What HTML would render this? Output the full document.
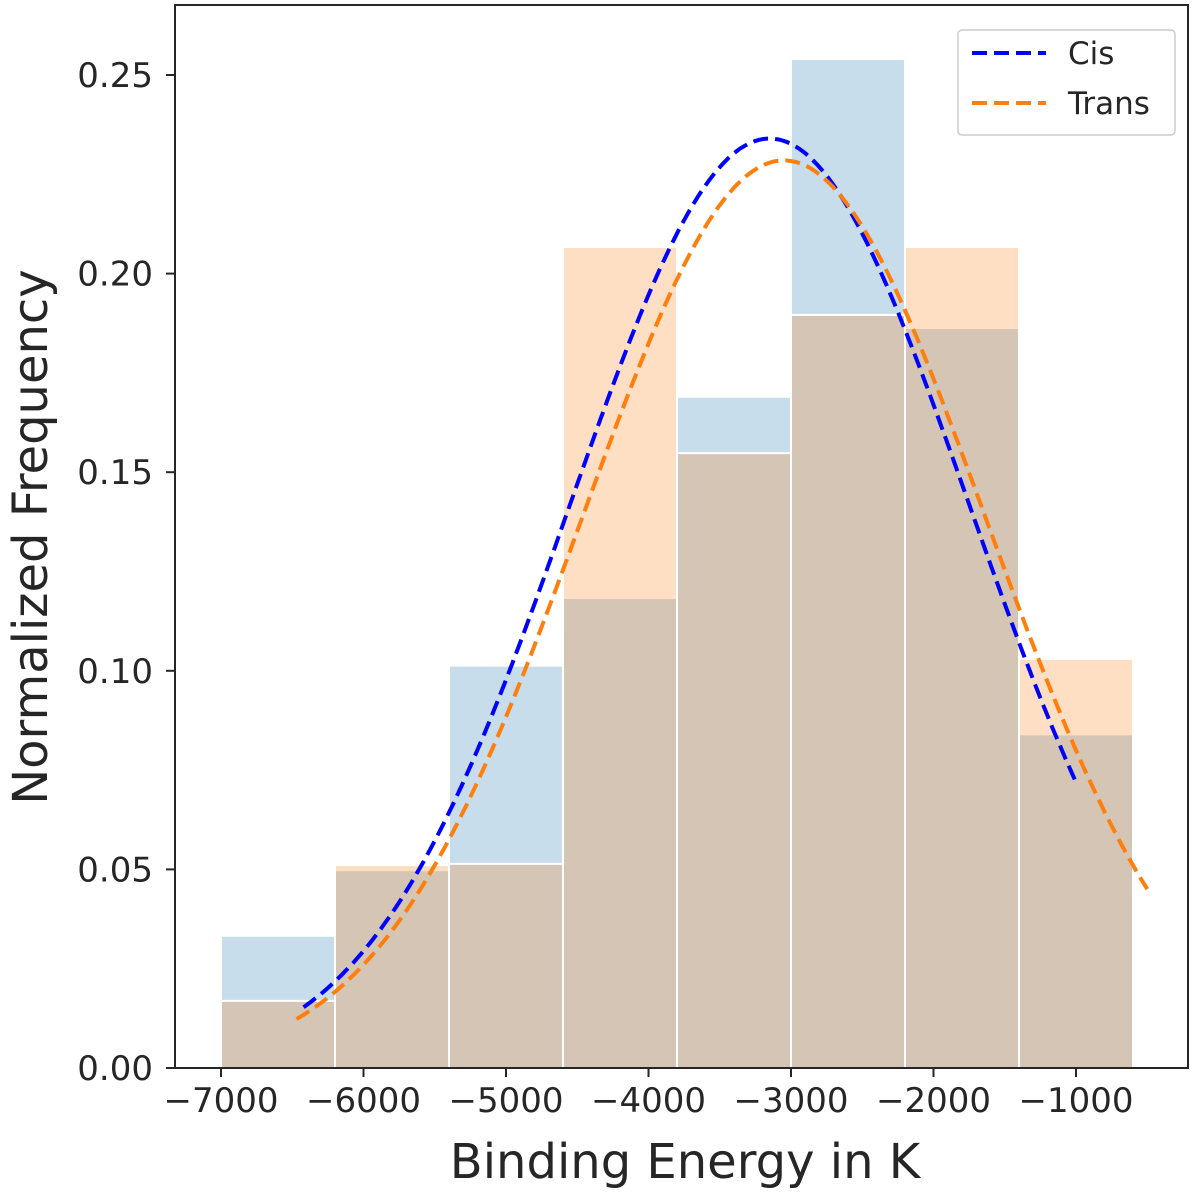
<!DOCTYPE html>
<html><head><meta charset="utf-8"><style>
body{margin:0;background:#fff}
text{font-family:"DejaVu Sans","Liberation Sans",sans-serif;fill:#262626}
</style></head><body>
<svg width="1200" height="1197" xmlns="http://www.w3.org/2000/svg">
<g id="plot"></g>
</svg>
<script>
const binEdges=[-7000,-6200,-5400,-4600,-3800,-3000,-2200,-1400,-600];
const cisFreq=[0.0333,0.0498,0.1013,0.1183,0.169,0.254,0.1863,0.084];
const transFreq=[0.0169,0.0511,0.0514,0.2067,0.1548,0.1896,0.2067,0.103];
const cisFit=[-3150,1400,0.234,-6420,-1000];
const transFit=[-3050,1415,0.2285,-6470,-500];
const xTicks=[-7000,-6000,-5000,-4000,-3000,-2000,-1000];
const yTicks=[0,0.05,0.10,0.15,0.20,0.25];
const yTickLabels=["0.00","0.05","0.10","0.15","0.20","0.25"];

const NS="http://www.w3.org/2000/svg";
const g=document.getElementById('plot');
const L=175,R=1188,T=5,B=1068;
const xs=v=>221+(v+7000)*0.1425;
const ys=v=>B-v*3972;
function mk(t,a,p){const e=document.createElementNS(NS,t);for(const k in a)e.setAttribute(k,a[k]);(p||g).appendChild(e);return e;}
function bars(freq,color,name){
 freq.forEach((f,i)=>{
  const x0=xs(binEdges[i]),x1=xs(binEdges[i+1]);
  const r=mk('rect',{x:x0,y:ys(f),width:x1-x0,height:B-ys(f),fill:color,'fill-opacity':0.25,stroke:'#fff','stroke-width':2});
  
  
 });
}
bars(cisFreq,'#1f77b4','cis');
bars(transFreq,'#ff7f0e','trans');
function curve(p,color,name){
 const [mu,s,a,x0,x1]=p;let d='';
 for(let k=0;k<=200;k++){const x=x0+(x1-x0)*k/200;const y=a*Math.exp(-((x-mu)**2)/(2*s*s));d+=(k?'L':'M')+xs(x).toFixed(1)+','+ys(y).toFixed(1);}
 const e=mk('path',{d:d,fill:'none',stroke:color,'stroke-width':4,'stroke-dasharray':'15,7'});
 
 
}
curve(cisFit,'#0000ff','cis-fit-line');
curve(transFit,'#ff7f0e','trans-fit-line');
const fr=mk('rect',{x:L,y:T,width:R-L,height:B-T,fill:'none',stroke:'#262626','stroke-width':2});


xTicks.forEach(v=>{
 mk('line',{x1:xs(v),x2:xs(v),y1:B,y2:B+9,stroke:'#262626','stroke-width':2});
 const t=mk('text',{x:xs(v),y:B+44,'text-anchor':'middle','font-size':34});
 t.textContent=String(v).replace('-','\u2212');
 
 
});
yTicks.forEach((v,i)=>{
 mk('line',{x1:L-9,x2:L,y1:ys(v),y2:ys(v),stroke:'#262626','stroke-width':2});
 const t=mk('text',{x:L-22,y:ys(v)+12,'text-anchor':'end','font-size':34});
 t.textContent=yTickLabels[i];
 
 
});
const xl=mk('text',{x:685,y:1178,'text-anchor':'middle','font-size':48});
xl.textContent='Binding Energy in K';


const yl=mk('text',{x:0,y:0,'text-anchor':'middle','font-size':48,transform:'translate(47,537) rotate(-90)'});
yl.textContent='Normalized Frequency';


const lg=mk('g',{});


mk('rect',{x:958,y:30,width:217,height:105,rx:4,fill:'#fff','fill-opacity':0.8,stroke:'#ccc','stroke-width':1.5},lg);
mk('line',{x1:972,x2:1046,y1:53,y2:53,stroke:'#0000ff','stroke-width':4,'stroke-dasharray':'15,7'},lg);
mk('line',{x1:972,x2:1046,y1:103,y2:103,stroke:'#ff7f0e','stroke-width':4,'stroke-dasharray':'15,7'},lg);
const l1=mk('text',{x:1068,y:64,'font-size':31},lg);l1.textContent='Cis';


const l2=mk('text',{x:1068,y:114,'font-size':31},lg);l2.textContent='Trans';


</script>
</body></html>
